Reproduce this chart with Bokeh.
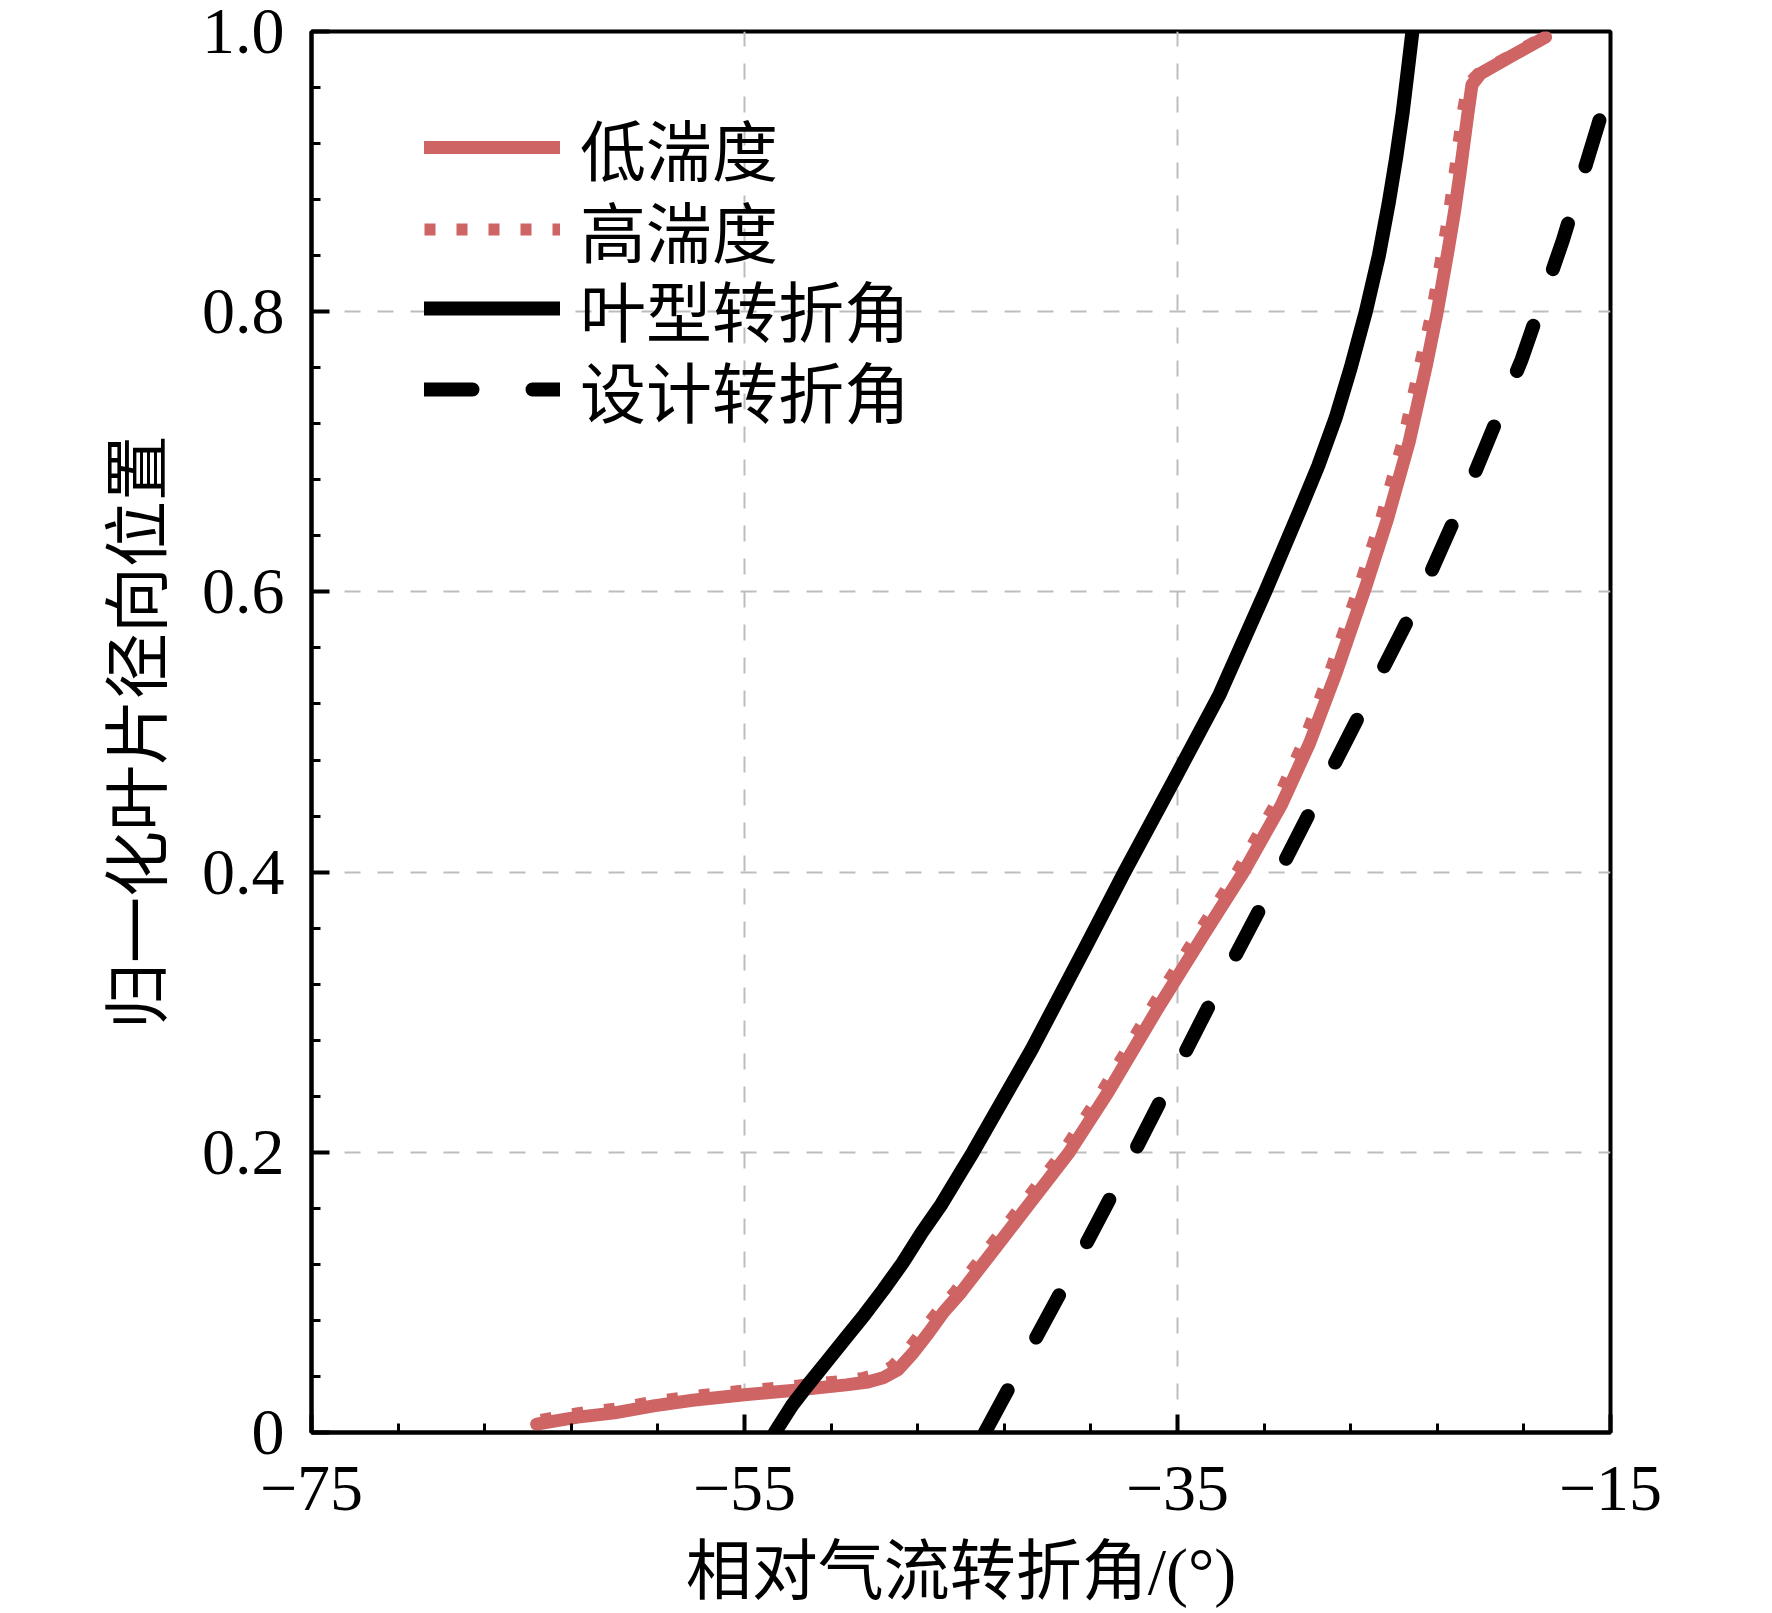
from bokeh.plotting import figure
from bokeh.models import Range1d, FixedTicker, Legend, LegendItem, CustomJSTickFormatter
from bokeh.embed import file_html
from bokeh.resources import INLINE

# ---- data ----
low_x = [-64.6, -62.7, -61.0, -59.2, -57.4, -55.0, -52.8, -50.3, -49.3, -48.6, -47.9, -47.2,
         -46.5, -45.8, -45.0, -44.15, -43.35, -42.6, -41.9, -41.05, -40.0, -38.2, -35.9, -33.8,
         -31.95, -30.2, -28.9, -27.7, -26.3, -25.3, -24.3, -23.5, -23.0, -22.5, -22.2,
         -21.95, -21.6, -21.4, -21.0, -19.4, -18.0]
low_y = [0.006, 0.011, 0.014, 0.019, 0.023, 0.027, 0.030, 0.034, 0.036, 0.039, 0.045, 0.057,
         0.071, 0.086, 0.100, 0.117, 0.133, 0.148, 0.162, 0.179, 0.200, 0.243, 0.303, 0.355,
         0.400, 0.448, 0.492, 0.541, 0.604, 0.652, 0.707, 0.762, 0.800, 0.844, 0.872,
         0.899, 0.940, 0.962, 0.970, 0.984, 0.996]

high_x = [-64.4, -62.6, -61.0, -59.2, -57.4, -55.0, -52.8, -50.4, -49.5, -48.8, -48.2, -47.5,
          -46.8, -46.1, -45.3, -44.45, -43.65, -42.9, -42.2, -41.35, -40.3, -38.5, -36.2, -34.1,
          -32.25, -30.5, -29.2, -28.0, -26.6, -25.6, -24.6, -23.8, -23.25, -22.75, -22.45,
          -22.2, -21.85, -21.6, -21.1, -19.5, -18.1]
high_y = [0.009, 0.014, 0.017, 0.022, 0.026, 0.030, 0.033, 0.037, 0.039, 0.042, 0.047, 0.058,
          0.072, 0.086, 0.100, 0.117, 0.133, 0.148, 0.162, 0.179, 0.200, 0.243, 0.303, 0.355,
          0.400, 0.448, 0.492, 0.541, 0.604, 0.652, 0.707, 0.762, 0.800, 0.844, 0.872,
          0.899, 0.940, 0.962, 0.970, 0.984, 0.996]

blade_x = [-53.6, -52.82, -52.12, -51.23, -50.35, -49.46, -48.58, -47.7, -46.8, -45.9, -45.0,
           -44.45, -41.75, -39.3, -37.45, -35.15, -33.05, -30.95, -29.3, -28.5, -27.7, -27.0,
           -26.3, -25.7, -25.25, -24.9, -24.6, -24.38, -24.15]
blade_y = [0.0, 0.019, 0.033, 0.050, 0.067, 0.084, 0.102, 0.121, 0.143, 0.163, 0.186,
           0.200, 0.273, 0.345, 0.400, 0.466, 0.527, 0.600, 0.660, 0.690, 0.724, 0.760,
           0.800, 0.840, 0.877, 0.910, 0.942, 0.970, 1.0]

design_x = [-43.9, -40.4, -37.0, -33.7, -30.3, -27.0, -23.7, -21.4, -19.1, -17.2, -15.6, -15.1]
design_y = [0.0, 0.1, 0.2, 0.3, 0.4, 0.5, 0.6, 0.68, 0.766, 0.851, 0.932, 0.958]

labels = ["低湍度", "高湍度", "叶型转折角", "设计转折角"]
x_major = [-75, -55, -35, -15]
x_minor = [-71, -67, -63, -59, -51, -47, -43, -39, -31, -27, -23, -19]
y_major = [0, 0.2, 0.4, 0.6, 0.8, 1.0]
y_minor = [0.04, 0.08, 0.12, 0.16, 0.24, 0.28, 0.32, 0.36, 0.44, 0.48, 0.52, 0.56,
           0.64, 0.68, 0.72, 0.76, 0.84, 0.88, 0.92, 0.96]
x_title = "相对气流转折角/(°)"
y_title = "归一化叶片径向位置"

RED = "#cf6464"
SERIF = "Liberation Serif, Noto Sans CJK SC"
FS = "66px"

p = figure(frame_width=1299, frame_height=1401,
           x_range=Range1d(-75, -15), y_range=Range1d(0, 1),
           output_backend="svg", toolbar_location=None,
           min_border_left=311, min_border_top=31, min_border_right=90, min_border_bottom=10)
p.background_fill_color = "white"
p.border_fill_color = "white"
p.outline_line_color = "black"
p.outline_line_width = 4

# grids
p.xgrid.ticker = FixedTicker(ticks=[-55, -35])
p.ygrid.ticker = FixedTicker(ticks=[0.2, 0.4, 0.6, 0.8])
for g in (p.xgrid, p.ygrid):
    g.grid_line_color = "#bdbdbd"
    g.grid_line_width = 2
    g.grid_line_dash = "16 17"

# axes
xa = p.xaxis[0]
ya = p.yaxis[0]
xa.ticker = FixedTicker(ticks=x_major, minor_ticks=x_minor)
ya.ticker = FixedTicker(ticks=y_major, minor_ticks=y_minor)
xa.formatter = CustomJSTickFormatter(code="return tick < 0 ? '\u2212' + Math.abs(tick) : String(tick);")
ya.formatter = CustomJSTickFormatter(code="return tick == 0 ? '0' : tick.toFixed(1);")
for a in (xa, ya):
    a.axis_line_width = 4
    a.axis_line_color = "black"
    a.major_tick_line_width = 4
    a.minor_tick_line_width = 3
    a.major_tick_in = 18
    a.major_tick_out = 0
    a.minor_tick_in = 9
    a.minor_tick_out = 0
    a.major_label_text_font = SERIF
    a.major_label_text_font_size = FS
    a.major_label_text_color = "black"
    a.axis_label_text_font = SERIF
    a.axis_label_text_font_size = FS
    a.axis_label_text_font_style = "normal"
    a.axis_label_text_color = "black"
xa.major_label_standoff = 34
ya.major_label_standoff = 27
xa.axis_label = x_title
ya.axis_label = y_title
xa.axis_label_standoff = 22
ya.axis_label_standoff = 24

# lines
r_low = p.line(low_x, low_y, line_color=RED, line_width=13, line_join="round", line_cap="round")
r_high = p.line(high_x, high_y, line_color=RED, line_width=12, line_dash="11 21", line_cap="butt")
r_blade = p.line(blade_x, blade_y, line_color="black", line_width=14, line_join="round", line_cap="round")
r_design = p.line(design_x, design_y, line_color="black", line_width=14, line_dash="48 60",
                  line_cap="round")

# one single-row legend per entry, so that the row pitch matches the reference
renderers = [r_low, r_high, r_blade, r_design]
row_y = [1237, 1155, 1076, 995]
for lab, r, vy in zip(labels, renderers, row_y):
    lg = Legend(items=[LegendItem(label=lab, renderers=[r])], location=(113, vy))
    lg.label_text_font = SERIF
    lg.label_text_font_size = FS
    lg.label_text_color = "black"
    lg.glyph_width = 136
    lg.glyph_height = 60
    lg.label_height = 60
    lg.label_standoff = 20
    lg.spacing = 0
    lg.padding = 0
    lg.margin = 0
    lg.border_line_alpha = 0
    lg.background_fill_alpha = 0
    p.add_layout(lg, "center")

open("out.html", "w").write(file_html(p, INLINE))
